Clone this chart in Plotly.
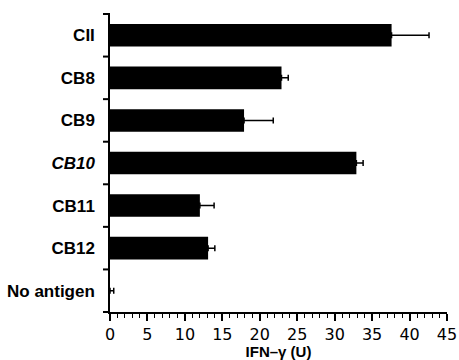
import plotly.graph_objects as go

categories = ["CII", "CB8", "CB9", "CB10", "CB11", "CB12", "No antigen"]
tick_labels = ["CII", "CB8", "CB9", "<i>CB10</i>", "CB11", "CB12", "No antigen"]
values = [37.6, 22.9, 17.9, 32.9, 12.0, 13.1, 0.0]
errors = [5.0, 0.9, 3.9, 0.9, 1.9, 0.9, 0.5]
x_ticks = [0, 5, 10, 15, 20, 25, 30, 35, 40, 45]

positions = list(range(len(categories)))
boundaries = [p - 0.5 for p in positions] + [positions[-1] + 0.5]

PLOT_W = 459 - 110 - 12
TICK_LEN = 7

fig = go.Figure()
fig.add_trace(go.Bar(
    x=values, y=positions, orientation="h",
    marker=dict(color="black", line=dict(width=0)),
    width=0.53,
    error_x=dict(type="data", array=errors, arrayminus=[0] * len(errors),
                 symmetric=False, color="black", thickness=1.5, width=3),
    hovertext=categories,
))

# category-boundary tick marks on the y axis, drawn as paper-referenced lines
span = boundaries[-1] - boundaries[0]
shapes = []
for b in boundaries:
    yp = 1 - (b - boundaries[0]) / span
    shapes.append(dict(type="line", xref="paper", yref="paper",
                       x0=-TICK_LEN / PLOT_W, x1=0.0, y0=yp, y1=yp,
                       line=dict(color="black", width=2), layer="above"))

fig.update_layout(
    width=459, height=360,
    margin=dict(l=110, r=12, t=14, b=48),
    plot_bgcolor="white", paper_bgcolor="white",
    showlegend=False,
    shapes=shapes,
)
fig.update_xaxes(
    range=[0, 45], tickvals=x_ticks, ticktext=[str(v) for v in x_ticks],
    automargin=False,
    showline=True, linecolor="black", linewidth=1.5,
    ticks="outside", ticklen=7, tickwidth=1.5, tickcolor="black",
    minor=dict(dtick=1, ticks="outside", ticklen=4, tickwidth=1, tickcolor="black", showgrid=False),
    showgrid=False, zeroline=False,
    tickfont=dict(family="DejaVu Sans", size=16, color="black"),
    title=dict(text="IFN\u2013\u03b3 (U)", font=dict(family="Liberation Sans", size=15, color="black", weight="bold"), standoff=9),
)
fig.update_yaxes(
    range=[boundaries[-1], boundaries[0]],
    tickmode="array", tickvals=positions, ticktext=tick_labels,
    automargin=False,
    showline=True, linecolor="black", linewidth=1.5,
    ticks="outside", ticklen=7, tickwidth=1.5, tickcolor="rgba(0,0,0,0)",
    showgrid=False, zeroline=False,
    tickfont=dict(family="Liberation Sans", size=17, color="black", weight="bold"),
    ticklabelstandoff=3,
)

fig.write_html("out.html", config={"displayModeBar": False},
               post_script="document.body.style.margin='0';")
